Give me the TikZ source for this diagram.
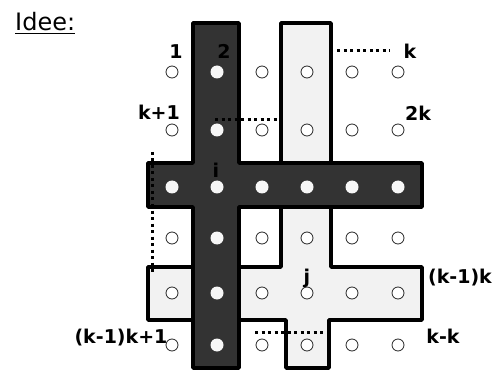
\documentclass[tikz,border=0pt]{standalone}
\usepackage{fontspec}
\setmainfont{DejaVu Sans}
\definecolor{darkfill}{HTML}{333333}
\definecolor{lightfill}{HTML}{F2F2F2}
\definecolor{dotfill}{HTML}{F7F7F7}
\begin{document}
\begin{tikzpicture}[x=1pt,y=-1pt,
  crossdark/.style={fill=darkfill,draw=black,line width=3.5pt,line join=round},
  crosslight/.style={fill=lightfill,draw=black,line width=3.5pt,line join=round},
  opendot/.style={circle,draw=black!85,line width=0.8pt,fill=white,minimum size=12pt,inner sep=0pt},
  fulldot/.style={circle,fill=dotfill,minimum size=13pt,inner sep=0pt},
  lbl/.style={font=\bfseries\fontsize{19}{19}\selectfont,inner sep=0pt,anchor=base},
  dotline/.style={line width=3pt,dash pattern=on 3pt off 3.5pt}]
\useasboundingbox (0,0) rectangle (497,371);
% light cross
\draw[crosslight] (281,23) -- (331,23) -- (331,267) -- (422,267) -- (422,320) -- (329,320)
  -- (329,368) -- (286,368) -- (286,320) -- (148,320) -- (148,267) -- (281,267) -- cycle;
% dark cross
\draw[crossdark] (193,23) -- (239,23) -- (239,163) -- (422,163) -- (422,207) -- (239,207)
  -- (239,368) -- (193,368) -- (193,207) -- (148,207) -- (148,163) -- (193,163) -- cycle;
% grid of dots
\foreach \r/\y in {1/72,2/130,3/187,4/238,5/293,6/345}{
  \foreach \c/\x in {1/172,2/217,3/262,4/307,5/352,6/398}{
    \pgfmathtruncatemacro{\isfull}{(\r==3)||(\c==2)}
    \ifnum\isfull=1
      \node[fulldot] (d-\r-\c) at (\x,\y) {};
    \else
      \node[opendot] (d-\r-\c) at (\x,\y) {};
    \fi
  }
}
% dotted lines
\coordinate (t1) at (337,51); \coordinate (t2) at (390,51);
\coordinate (s1) at (215,120); \coordinate (s2) at (281,120);
\coordinate (v1) at (152,152); \coordinate (v2) at (152,274);
\coordinate (b1) at (255,332); \coordinate (b2) at (323,332);
\draw[dotline] (t1) -- (t2);
\draw[dotline] (s1) -- (s2);
\draw[dotline] (v1) -- (v2);
\draw[dotline] (b1) -- (b2);
% labels
\node[anchor=base west,inner sep=0pt,font=\fontsize{24}{24}\selectfont] (idee) at (15,31) {\underline{Idee:}};
\node[lbl] (l1) at (176,59) {1};
\node[lbl] (l2) at (224,59) {2};
\node[lbl] (lk) at (410,59) {k};
\node[lbl] (lk1) at (159,120) {k+1};
\node[lbl] (l2k) at (418,121) {2k};
\node[lbl] (li) at (216,178) {i};
\node[lbl] (lj) at (307,283) {j};
\node[lbl] (lkk) at (460,283) {(k-1)k};
\node[lbl] (lkk1) at (121,343) {(k-1)k+1};
\node[lbl] (lkmk) at (443,343) {k-k};
\end{tikzpicture}
\end{document}
